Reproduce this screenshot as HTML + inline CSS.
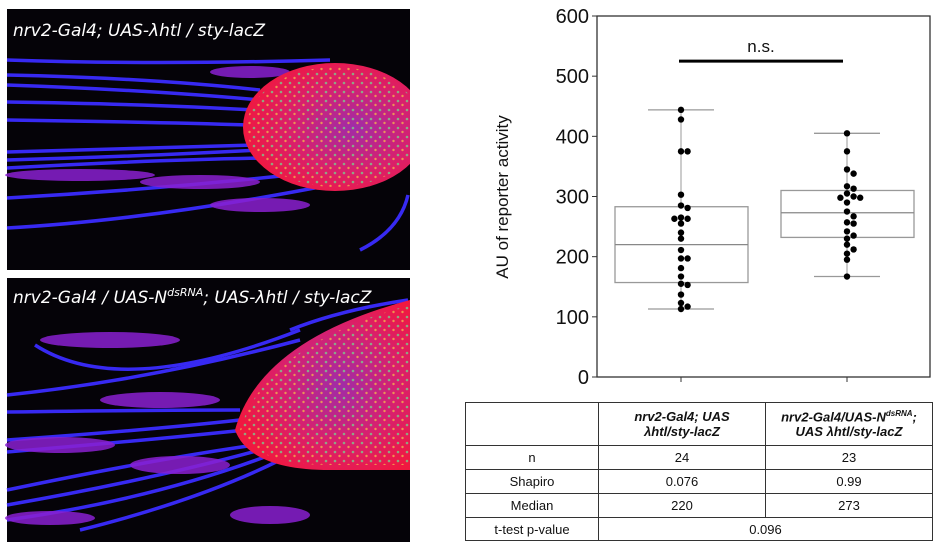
<!DOCTYPE html>
<html><head><meta charset="utf-8">
<style>
body{margin:0;background:#fff;width:944px;height:553px;overflow:hidden;font-family:"Liberation Sans",sans-serif;}
svg{position:absolute;left:0;top:0}
table{position:absolute;left:465px;top:402px;border-collapse:collapse;font-size:13px;color:#111}
td{border:1px solid #333;text-align:center;padding:0;}
</style></head><body>
<svg width="944" height="553">
 <defs>
  <radialGradient id="blob" cx="0.6" cy="0.5" r="0.6">
   <stop offset="0" stop-color="#a02ca8"/><stop offset="0.55" stop-color="#d8206e"/><stop offset="1" stop-color="#f01840"/>
  </radialGradient>
  <pattern id="spk" width="9" height="9" patternUnits="userSpaceOnUse">
   <circle cx="2" cy="2" r="1.3" fill="#7ec88a" opacity="0.8"/><circle cx="6.5" cy="6" r="1.2" fill="#f0b050" opacity="0.8"/>
  </pattern>
 </defs>
 <g>
  <rect x="7" y="9" width="403" height="261" fill="#050308"/>
  <g stroke="#3a2cff" stroke-width="3.5" fill="none" opacity="0.95">
   <path d="M7 60 Q150 65 330 60"/><path d="M7 75 Q150 78 260 90"/><path d="M7 85 Q150 90 260 100"/>
   <path d="M7 102 Q150 104 255 110"/><path d="M7 120 Q150 122 250 125"/><path d="M7 152 Q150 148 255 145"/>
   <path d="M7 160 Q150 156 260 150"/><path d="M7 168 Q150 160 265 158"/><path d="M7 198 Q150 190 290 175"/>
   <path d="M7 228 Q150 220 330 185"/><path d="M360 250 Q400 230 408 195"/>
  </g>
  <g fill="#8a20d0" opacity="0.85">
   <ellipse cx="80" cy="175" rx="75" ry="6"/><ellipse cx="200" cy="182" rx="60" ry="7"/><ellipse cx="260" cy="205" rx="50" ry="7"/><ellipse cx="250" cy="72" rx="40" ry="6"/>
  </g>
  <ellipse cx="335" cy="127" rx="92" ry="64" fill="url(#blob)"/>
  <ellipse cx="335" cy="127" rx="88" ry="60" fill="url(#spk)"/>
  <rect x="410" y="9" width="20" height="261" fill="#fff"/>
  <text x="13" y="36" fill="#fff" font-size="17" font-style="italic" font-family="DejaVu Sans,sans-serif">nrv2-Gal4; UAS-λhtl / sty-lacZ</text>
 </g>
 <g>
  <rect x="7" y="278" width="403" height="264" fill="#050308"/>
  <g stroke="#3a2cff" stroke-width="3.5" fill="none" opacity="0.95">
   <path d="M35 345 Q120 400 300 330"/><path d="M7 395 Q150 380 300 340"/><path d="M7 412 Q150 410 240 410"/>
   <path d="M7 440 Q150 430 240 420"/><path d="M7 452 Q150 440 245 430"/><path d="M7 490 Q150 460 255 445"/>
   <path d="M7 505 Q150 480 260 450"/><path d="M7 520 Q150 500 270 455"/><path d="M80 530 Q200 500 280 460"/>
   <path d="M290 330 Q340 310 408 300"/>
  </g>
  <g fill="#8a20d0" opacity="0.85">
   <ellipse cx="110" cy="340" rx="70" ry="8"/><ellipse cx="160" cy="400" rx="60" ry="8"/><ellipse cx="60" cy="445" rx="55" ry="8"/>
   <ellipse cx="180" cy="465" rx="50" ry="9"/><ellipse cx="270" cy="515" rx="40" ry="9"/><ellipse cx="50" cy="518" rx="45" ry="7"/>
  </g>
  <path d="M235 430 Q260 340 410 300 L410 470 L330 470 Q250 470 235 430Z" fill="url(#blob)"/>
  <path d="M240 430 Q265 345 410 305 L410 465 L330 465 Q255 465 240 430Z" fill="url(#spk)"/>
  <rect x="410" y="278" width="20" height="264" fill="#fff"/>
  <text x="13" y="303" fill="#fff" font-size="17" font-style="italic" font-family="DejaVu Sans,sans-serif">nrv2-Gal4 / UAS-N<tspan font-size="11" dy="-7">dsRNA</tspan><tspan dy="7">; UAS-λhtl / sty-lacZ</tspan></text>
 </g>
 <g id="chart"></g>
</svg>
<table>
 <tr style="height:43px"><td style="width:132px"></td><td style="width:166px;font-weight:bold;font-style:italic">nrv2-Gal4; UAS<br>λhtl/sty-lacZ</td><td style="width:166px;font-weight:bold;font-style:italic">nrv2-Gal4/UAS-N<sup style="font-size:8px">dsRNA</sup>;<br>UAS λhtl/sty-lacZ</td></tr>
 <tr style="height:24px"><td>n</td><td>24</td><td>23</td></tr>
 <tr style="height:24px"><td>Shapiro</td><td>0.076</td><td>0.99</td></tr>
 <tr style="height:24px"><td>Median</td><td>220</td><td>273</td></tr>
 <tr style="height:23px"><td>t-test p-value</td><td colspan="2">0.096</td></tr>
</table>
<script>
const yTicks=[0,100,200,300,400,500,600];
const groups=['control','notch-rnai'];
const q1=[157,232], medians=[220,273], q3=[283,310], whiskLo=[113,167], whiskHi=[444,405];
const pts0=[444,428,375,375,303,285,281,265,263,263,255,240,230,211,197,197,181,167,155,153,137,123,117,113];
const pts1=[405,375,345,338,317,313,305,300,298,298,290,275,267,257,255,242,235,230,220,212,205,195,167];
const points=[pts0,pts1];
const NS='http://www.w3.org/2000/svg';
const L=597,R=930,T=16,B=377;
const y=v=>B-(v/600)*(B-T);
const xc=i=>681+i*166;
const g=document.getElementById('chart');
function mk(t,a){const e=document.createElementNS(NS,t);for(const k in a)e.setAttribute(k,a[k]);g.appendChild(e);return e;}
let e=mk('rect',{x:L,y:T,width:R-L,height:B-T,fill:'none',stroke:'#333','stroke-width':1.3});


yTicks.forEach(t=>{
 let l=mk('line',{x1:L-5,x2:L,y1:y(t),y2:y(t),stroke:'#333'});
 
 
 let tx=mk('text',{x:L-8,y:y(t)+7,'text-anchor':'end','font-size':20,fill:'#111'});
 tx.textContent=t;
 
 
});
let yt=mk('text',{x:0,y:0,transform:'translate(508,197) rotate(-90)','text-anchor':'middle','font-size':17,fill:'#111'});
yt.textContent='AU of reporter activity';


groups.forEach((gname,i)=>{
 const cx=xc(i),c='#999';
 let xt=mk('line',{x1:cx,x2:cx,y1:B,y2:B+5,stroke:'#333'});
 
 
 mk('line',{x1:cx,x2:cx,y1:y(whiskHi[i]),y2:y(q3[i]),stroke:c});
 mk('line',{x1:cx,x2:cx,y1:y(q1[i]),y2:y(whiskLo[i]),stroke:c});
 mk('line',{x1:cx-33,x2:cx+33,y1:y(whiskHi[i]),y2:y(whiskHi[i]),stroke:c,'stroke-width':1.3});
 mk('line',{x1:cx-33,x2:cx+33,y1:y(whiskLo[i]),y2:y(whiskLo[i]),stroke:c,'stroke-width':1.3});
 let bx=mk('rect',{x:cx-66,y:y(q3[i]),width:133,height:y(q1[i])-y(q3[i]),fill:'none',stroke:c,'stroke-width':1.3});
 
 
 mk('line',{x1:cx-66,x2:cx+67,y1:y(medians[i]),y2:y(medians[i]),stroke:'#888','stroke-width':1.3});
 const placed=[];
 points[i].forEach(v=>{
  const py=y(v);let off=0,cands=[0];
  for(let k=1;k<8;k++){cands.push(k*3.3,-k*3.3);}
  for(const o of cands){if(placed.every(p=>Math.hypot(p[0]-o,p[1]-py)>=6)){off=o;break;}}
  placed.push([off,py]);
  let d=mk('circle',{cx:cx+off,cy:py,r:3.2,fill:'#000'});
  
  
 });
});
let sb=mk('line',{x1:679,x2:843,y1:y(525),y2:y(525),stroke:'#000','stroke-width':3});


let ns=mk('text',{x:761,y:52,'text-anchor':'middle','font-size':17,fill:'#111'});
ns.textContent='n.s.';


</script>
</body></html>
